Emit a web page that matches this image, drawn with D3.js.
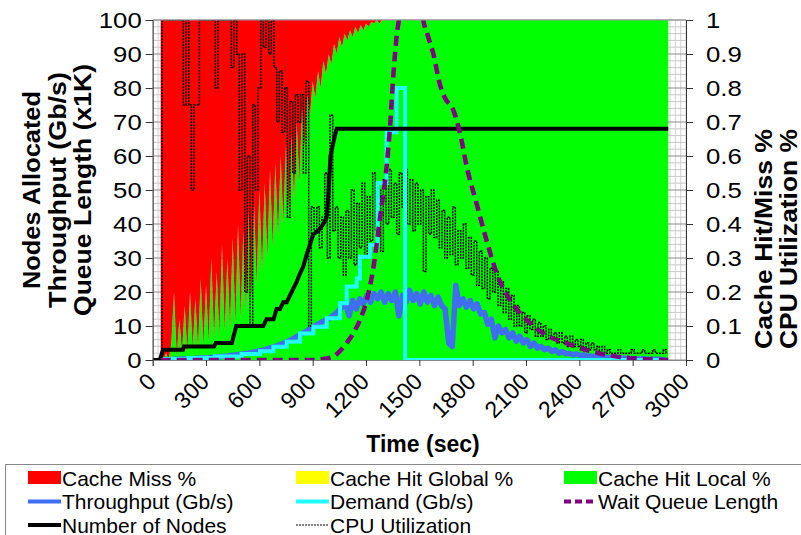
<!DOCTYPE html>
<html lang="en">
<head>
<meta charset="UTF-8">
<title>Cache hit / throughput over time</title>
<style>
body { margin: 0; background: #fff; }
text { font-family: 'Liberation Sans', Arial, sans-serif; fill: #000; }
.axis-title { font-size: 23px; font-weight: bold; }
.legend text { font-size: 21px; }
</style>
</head>
<body>
<div id="vis"></div>
<script src="https://d3js.org/d3.v7.min.js"></script>
<script>

// ---- data ----

// cache shares: sampled every 15 s starting at 45 s (fraction of requests)
const cacheStart = 45, cacheStep = 15;
const cacheLocal = [0, 0, 0.02, 0, 0.05, 0.2, 0.01, 0.12, 0.02, 0.16,
  0.02, 0.2, 0.03, 0.18, 0.03, 0.24, 0.04, 0.22, 0.05, 0.3,
  0.06, 0.26, 0.07, 0.34, 0.08, 0.3, 0.09, 0.36, 0.1, 0.4,
  0.12, 0.38, 0.14, 0.44, 0.17, 0.46, 0.22, 0.5, 0.26, 0.52,
  0.3, 0.56, 0.33, 0.58, 0.36, 0.6, 0.4, 0.64, 0.43, 0.66,
  0.47, 0.7, 0.52, 0.74, 0.62, 0.78, 0.72, 0.82, 0.77, 0.85,
  0.8, 0.88, 0.84, 0.9, 0.87, 0.93, 0.9, 0.95, 0.92, 0.96,
  0.94, 0.97, 0.95, 0.98, 0.96, 0.985, 0.97, 0.99, 0.98, 0.995,
  0.99, 1, 0.99, 1, 1, 1];
const cacheEnd = 2900;          // local hit stays at 1 until the run ends
const cacheGlobalShare = 0;     // global hits never show up in the picture

// CPU utilization (right axis), every 15 s from 45 s
const cpuStart = 45, cpuStep = 15;
const cpuUtil = [0, 1, 1, 1, 1, 1, 1, 1, 1, 0.75,
  1, 0.75, 0.5, 0.75, 0.75, 1, 1, 1, 1, 1,
  1, 0.8, 1, 1, 1, 1, 1, 0.86, 1, 0.9,
  0.5, 0.9, 0.2, 0.6, 0.1, 0.75, 0.5, 0.8, 1, 0.92,
  1, 0.9, 1, 0.86, 0.7, 0.85, 0.67, 0.8, 0.42, 0.76,
  0.55, 0.78, 0.7, 0.78, 0.55, 0.82, 0.1, 0.45, 0.38, 0.45,
  0.33, 0.42, 0.55, 0.3, 0.72, 0.38, 0.45, 0.3, 0.42, 0.25,
  0.44, 0.3, 0.5, 0.28, 0.46, 0.33, 0.52, 0.3, 0.48, 0.35,
  0.55, 0.38, 0.5, 0.32, 0.53, 0.4, 0.56, 0.42, 0.52, 0.37,
  0.55, 0.45, 0.56, 0.4, 0.53, 0.38, 0.52, 0.4, 0.5, 0.26,
  0.48, 0.37, 0.5, 0.36, 0.47, 0.33, 0.44, 0.3, 0.42, 0.31,
  0.45, 0.28, 0.38, 0.3, 0.4, 0.27, 0.36, 0.25, 0.35, 0.22,
  0.32, 0.21, 0.3, 0.18, 0.27, 0.2, 0.26, 0.16, 0.23, 0.14,
  0.21, 0.12, 0.19, 0.1, 0.16, 0.1, 0.14, 0.08, 0.13, 0.09,
  0.12, 0.07, 0.11, 0.07, 0.1, 0.06, 0.09, 0.06, 0.08, 0.05,
  0.08, 0.05, 0.07, 0.04, 0.07, 0.04, 0.06, 0.04, 0.06, 0.03,
  0.05, 0.03, 0.05, 0.03, 0.04, 0.02, 0.04, 0.02, 0.03, 0.02,
  0.02, 0.02, 0.03, 0.02, 0.02, 0.02, 0.02, 0.03, 0.02, 0.02,
  0.02, 0.03, 0.02, 0.02, 0.02, 0.03, 0.02, 0.02, 0.02, 0.03,
  0.02];

// throughput (Gb/s), every 20 s from 45 s
const thrStart = 45, thrStep = 20;
const throughput = [0, 0, 0.1, 0.1, 0.2, 0.2, 0.3, 0.3, 0.4, 0.4,
  0.5, 0.5, 0.6, 0.6, 0.7, 0.8, 0.9, 1.0, 1.1, 1.2,
  1.4, 1.5, 1.6, 1.8, 1.9, 2.1, 2.3, 2.5, 2.7, 3.0,
  3.3, 3.6, 3.9, 4.3, 4.7, 5.1, 5.6, 6.1, 6.7, 7.3,
  7.9, 8.5, 9.2, 9.8, 10.4, 11.0, 11.6, 12.0, 12.6, 13.5,
  14.5, 15.5, 16.5, 13, 17.5, 15, 18, 16.5, 19, 17,
  19.5, 18, 20, 17, 19.5, 17.5, 20, 13, 19, 17,
  20.5, 17.5, 19.5, 16.5, 20, 17, 19, 16, 18.5, 16,
  15, 5, 4, 22, 16, 18, 15.5, 17.5, 15, 16.5,
  13.5, 14, 10.5, 12, 6.5, 10, 8, 9, 6.5, 8,
  5.5, 7, 5, 6, 4, 5, 3.5, 4, 3, 3.5,
  2.5, 3, 2, 2.5, 1.8, 2, 1.5, 1.8, 1.3, 1.5,
  1.1, 1.2, 1, 1, 0.9, 0.8, 0.7, 0.7, 0.6, 0.6,
  0.5, 0.5, 0.4, 0.4, 0.3, 0.3, 0.3, 0.2, 0.2, 0.2,
  0.2, 0.1, 0.1];

// demand (Gb/s), a staircase: value holds from each time to the next
const demandT = [45, 200, 350, 500, 604, 679, 754, 829, 904, 979, 1054, 1091, 1148, 1166, 1222, 1265, 1316, 1372, 1420, 2900];
const demandV = [0.3, 0.6, 1.0, 1.8, 2.6, 3.9, 5.4, 7.8, 9.8, 12.3, 16.7, 21.6, 24, 30.4, 33.8, 52, 67, 80, 0, 0];

// wait queue length (x1K)
const queueT = [45, 900, 960, 1016, 1060, 1091, 1130, 1166, 1204, 1241, 1279, 1316, 1335, 1354, 1372, 1391, 1420, 1460, 1500, 1522, 1550, 1579, 1616, 1645, 1691, 1729, 1766, 1822, 1879, 1935, 2010, 2104, 2198, 2330, 2442, 2611, 2798, 2900];
const queueV = [0, 0, 0.3, 1, 3, 5, 8, 11.8, 17.6, 27, 42, 57, 68.6, 84, 95, 102, 110, 112, 108, 100, 95, 90, 81, 77, 73.5, 66.7, 57, 46, 35, 25.5, 17.6, 11.8, 7.8, 4.9, 2.9, 1, 0.2, 0];

// nodes allocated
const nodesT = [0, 40, 58, 170, 176, 345, 355, 445, 470, 622, 640, 680, 697, 716, 735, 754, 772, 791, 810, 829, 847, 866, 885, 904, 932, 960, 979, 990, 1000, 1025, 1035, 2900];
const nodesV = [0, 0, 3, 3, 4, 4, 5, 5, 10, 10, 12, 12, 15, 15, 17, 17, 19, 21, 23, 25.5, 27.5, 31, 34, 37, 38, 40, 42, 50, 60, 66, 68, 68];

const xTicks = [0, 300, 600, 900, 1200, 1500, 1800, 2100, 2400, 2700, 3000];
const leftTicks = [0, 10, 20, 30, 40, 50, 60, 70, 80, 90, 100];
const rightTicks = [0, 0.1, 0.2, 0.3, 0.4, 0.5, 0.6, 0.7, 0.8, 0.9, 1];

// ---- chart ----

const width = 801;
const height = 535;
const plotL = 152.7, plotR = 686, plotT = 20, plotB = 360;

let svg = d3.select("#vis").append("svg")
    .attr("width", width)
    .attr("height", height);

let x = d3.scaleLinear().domain([0, 3000]).range([plotL, plotR]);
let yL = d3.scaleLinear().domain([0, 100]).range([plotB, plotT]);
let yR = d3.scaleLinear().domain([0, 1]).range([plotB, plotT]);

svg.append("clipPath").attr("id", "plotclip")
  .append("rect")
    .attr("x", plotL).attr("y", plotT)
    .attr("width", plotR - plotL).attr("height", plotB - plotT);

// background grid
let grid = svg.append("g");
grid.selectAll("line.v")
  .data(d3.range(0, 3001, 30))
  .enter().append("line")
    .attr("x1", d => x(d)).attr("x2", d => x(d))
    .attr("y1", plotT).attr("y2", plotB)
    .style("stroke", "#d4d4d4").style("stroke-width", 1);
grid.selectAll("line.h")
  .data(d3.range(0, 101, 2))
  .enter().append("line")
    .attr("x1", plotL).attr("x2", plotR)
    .attr("y1", d => yL(d)).attr("y2", d => yL(d))
    .style("stroke", d => d % 10 === 0 ? "#8c8c8c" : "#c8c8c8")
    .style("stroke-width", 1);

// stacked cache areas
let cacheRows = cacheLocal.map(function(v, i){
  return {t: cacheStart + i * cacheStep, local: v, global: cacheGlobalShare, miss: 1 - v - cacheGlobalShare};
});
let lastRow = cacheRows[cacheRows.length - 1];
cacheRows.push({t: cacheEnd, local: lastRow.local, global: lastRow.global, miss: lastRow.miss});

let stack = d3.stack().keys(["local", "global", "miss"]);
let layers = stack(cacheRows);
let layerColor = {local: "#00ff00", global: "#ffff00", miss: "#ff0000"};

let area = d3.area()
  .x(d => x(d.data.t))
  .y0(d => yR(d[0]))
  .y1(d => yR(d[1]));

let plot = svg.append("g").attr("clip-path", "url(#plotclip)");

plot.selectAll("path.layer")
  .data(layers)
  .enter().append("path")
    .attr("d", area)
    .style("fill", d => layerColor[d.key])
    .style("stroke", "none");

// lines
let thrData = throughput.map((v, i) => [thrStart + i * thrStep, v]);
let cpuData = cpuUtil.map((v, i) => [cpuStart + i * cpuStep, v]);
let demandData = demandT.map((t, i) => [t, demandV[i]]);
let queueData = queueT.map((t, i) => [t, queueV[i]]);
let nodesData = nodesT.map((t, i) => [t, nodesV[i]]);

let lineL = d3.line().x(d => x(d[0])).y(d => yL(d[1]));

plot.append("path")
  .attr("d", lineL(thrData))
  .style("fill", "none").style("stroke", "#3f6ff0").style("stroke-width", 5.5)
  .style("stroke-linejoin", "round");

plot.append("path")
  .attr("d", d3.line().curve(d3.curveStep).x(d => x(d[0])).y(d => yR(d[1]))(cpuData))
  .style("fill", "none").style("stroke", "#000").style("stroke-width", 1.5)
  .style("stroke-dasharray", "2,1");

plot.append("path")
  .attr("d", d3.line().curve(d3.curveStepAfter).x(d => x(d[0])).y(d => yL(d[1]))(demandData))
  .style("fill", "none").style("stroke", "#22ffff").style("stroke-width", 4);

plot.append("path")
  .attr("d", lineL(nodesData))
  .style("fill", "none").style("stroke", "#000").style("stroke-width", 4);

plot.append("path")
  .attr("d", d3.line().curve(d3.curveMonotoneX).x(d => x(d[0])).y(d => yL(d[1]))(queueData))
  .style("fill", "none").style("stroke", "#800080").style("stroke-width", 4.5)
  .style("stroke-dasharray", "10,6");

// plot frame
svg.append("line")
  .attr("x1", plotL).attr("x2", plotR).attr("y1", plotT).attr("y2", plotT)
  .style("stroke", "#999");

// axes
let leftAxis = svg.append("g")
  .attr("transform", "translate(" + plotL + ",0)")
  .call(d3.axisLeft(yL).tickValues(leftTicks).tickSize(7).tickPadding(4));

let rightAxis = svg.append("g")
  .attr("transform", "translate(" + plotR + ",0)")
  .call(d3.axisRight(yR).tickValues(rightTicks).tickSize(7).tickPadding(13)
    .tickFormat(d3.format("~g")));

let bottomAxis = svg.append("g")
  .attr("transform", "translate(0," + plotB + ")")
  .call(d3.axisBottom(x).tickValues(xTicks).tickSize(6).tickFormat(d3.format("d")));

[leftAxis, rightAxis, bottomAxis].forEach(function(a){
  a.selectAll("path.domain").style("stroke", "#333");
  a.selectAll(".tick line").style("stroke", "#333");
  a.selectAll("text")
    .style("font-size", "22px")
    .style("font-family", "'Liberation Sans', Arial, sans-serif");
});
bottomAxis.select("path.domain").style("stroke", "#888");

// the tick numbers in the picture are drawn a little wide
[leftAxis, rightAxis].forEach(function(a){
  a.selectAll("text").each(function(){
    let len = this.getComputedTextLength();
    d3.select(this).attr("textLength", len * 1.17).attr("lengthAdjust", "spacingAndGlyphs");
  });
});

bottomAxis.selectAll("text")
  .attr("x", 0).attr("y", 0).attr("dy", 0)
  .attr("transform", "translate(4,23) rotate(-45)")
  .style("font-size", "23px")
  .style("text-anchor", "end");

// axis titles
svg.append("text")
  .attr("class", "axis-title")
  .attr("x", 423).attr("y", 452)
  .style("text-anchor", "middle")
  .text("Time (sec)");

let leftTitles = ["Nodes Allocated", "Throughput (Gb/s)", "Queue Length (x1K)"];
let leftTitleLen = [198, 236, 252];
leftTitles.forEach(function(s, i){
  svg.append("text")
    .attr("class", "axis-title")
    .attr("transform", "translate(" + (40 + i * 25.5) + ",190) rotate(-90)")
    .attr("textLength", leftTitleLen[i])
    .attr("lengthAdjust", "spacingAndGlyphs")
    .style("text-anchor", "middle")
    .text(s);
});

let rightTitles = ["Cache Hit/Miss %", "CPU Utilization %"];
rightTitles.forEach(function(s, i){
  svg.append("text")
    .attr("class", "axis-title")
    .attr("transform", "translate(" + (772 + i * 25) + ",349) rotate(-90)")
    .attr("textLength", 220)
    .attr("lengthAdjust", "spacingAndGlyphs")
    .style("text-anchor", "start")
    .text(s);
});

// legend
let legendNames = ["Cache Miss %", "Cache Hit Global %", "Cache Hit Local %",
  "Throughput (Gb/s)", "Demand (Gb/s)", "Wait Queue Length",
  "Number of Nodes", "CPU Utilization"];
let legendMarks = [
  {kind: "rect", color: "#ff0000"}, {kind: "rect", color: "#ffff00"}, {kind: "rect", color: "#00ff00"},
  {kind: "line", color: "#3f6ff0", w: 4}, {kind: "line", color: "#22ffff", w: 4}, {kind: "line", color: "#800080", w: 4, dash: "7,4"},
  {kind: "line", color: "#000", w: 4}, {kind: "line", color: "#000", w: 1, dash: "2,1"}
];
let colX = [28, 296, 564];
let rowY = [478, 501.5, 525];

let legend = svg.append("g").attr("class", "legend");
legend.append("rect")
  .attr("x", 5.5).attr("y", 464.5).attr("width", 810).attr("height", 100)
  .style("fill", "#fff").style("stroke", "#888");

legendNames.forEach(function(name, i){
  let cx = colX[i % 3], cy = rowY[Math.floor(i / 3)];
  let m = legendMarks[i];
  if (m.kind === "rect") {
    legend.append("rect")
      .attr("x", cx).attr("y", cy - 7).attr("width", 33).attr("height", 13)
      .style("fill", m.color);
  } else {
    legend.append("line")
      .attr("x1", cx).attr("x2", cx + 33).attr("y1", cy).attr("y2", cy)
      .style("stroke", m.color).style("stroke-width", m.w)
      .style("stroke-dasharray", m.dash || null);
  }
  legend.append("text")
    .attr("x", cx + 34).attr("y", cy + 7.5)
    .text(name);
});

</script>
</body>
</html>
